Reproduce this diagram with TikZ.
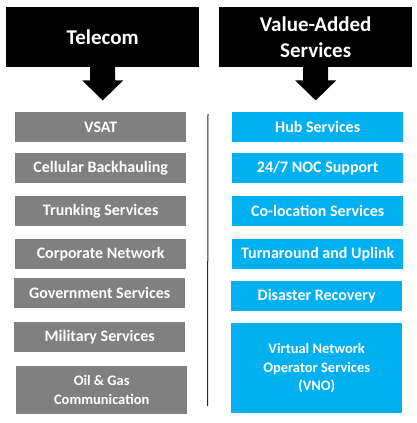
\documentclass[tikz,border=0pt]{standalone}
\usepackage{fontspec}
\setmainfont{Carlito}
\usetikzlibrary{calc}
\definecolor{gbox}{HTML}{808080}
\definecolor{bbox}{HTML}{00B0F0}
\begin{document}
\begin{tikzpicture}[x=1pt,y=-1pt,
  title/.style={fill=black,text=white,font=\bfseries\fontsize{21}{26}\selectfont,
    minimum width=193pt,minimum height=59.5pt,inner sep=0pt,align=center,anchor=north west},
  item/.style={text=white,font=\bfseries\fontsize{16}{19}\selectfont,
    minimum width=171pt,minimum height=30pt,inner sep=0pt,align=center,anchor=north west},
  small/.style={font=\bfseries\fontsize{14.5}{18.5}\selectfont},
  tel/.style={item,fill=gbox},
  vas/.style={item,fill=bbox},
  blockarrow/.style={fill=black}]
\useasboundingbox (0,0) rectangle (417,423);
\node[title] (telecom) at (6,7) {Telecom};
\node[title] (value) at (219,7) {Value-Added\\Services};
% block arrows
\fill[blockarrow] ($(telecom.south)+(-12.5,0)$) -- ++(0,13.5) -- ++(-8,0) -- ++(20.5,20) -- ++(20.5,-20) -- ++(-8,0) -- ++(0,-13.5) -- cycle;
\fill[blockarrow] ($(value.south)+(-12.5,0)$) -- ++(0,13.5) -- ++(-8,0) -- ++(20.5,20) -- ++(20.5,-20) -- ++(-8,0) -- ++(0,-13.5) -- cycle;
% left column
\node[tel] (vsat) at (15,112) {VSAT};
\node[tel] (cell) at (15,153) {Cellular Backhauling};
\node[tel] (trunk) at (15,196) {Trunking Services};
\node[tel] (corp) at (15,239) {Corporate Network};
\node[tel] (gov) at (14,278) {Government Services};
\node[tel] (mil) at (14,322) {Military Services};
\node[tel,small,minimum height=48pt] (oil) at (16,366) {Oil \& Gas\\Communication};
% right column
\node[vas] (hub) at (232,112) {Hub Services};
\node[vas] (noc) at (232,153) {24/7 NOC Support};
\node[vas] (coloc) at (232,196) {Co-location Services};
\node[vas] (turn) at (232,239) {Turnaround and Uplink};
\node[vas] (dis) at (231,281) {Disaster Recovery};
\node[vas,small,minimum height=90pt] (vno) at (231,323) {Virtual Network\\Operator Services\\(VNO)};
% divider
\coordinate (dtop) at (208,114);
\coordinate (dbot) at (207.5,406);
\draw[line width=1pt,black!85] (dtop) -- (dbot);
\end{tikzpicture}
\end{document}
